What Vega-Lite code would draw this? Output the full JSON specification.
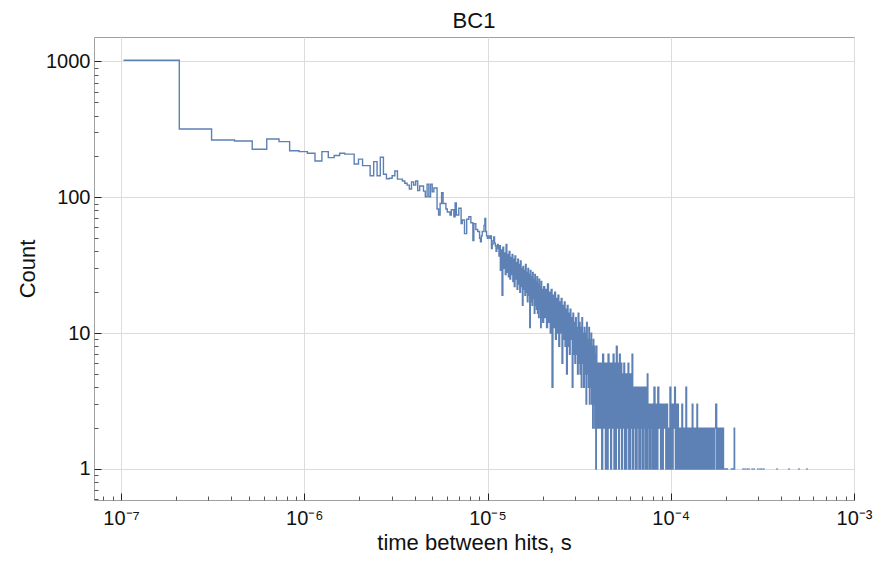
{
  "$schema": "https://vega.github.io/schema/vega-lite/v6.json",
  "width": 760,
  "height": 463,
  "autosize": "none",
  "padding": {"left": 94, "top": 37, "right": 24, "bottom": 64},
  "background": "white",
  "title": {"text": "BC1", "fontSize": 22, "font": "Liberation Sans", "fontWeight": "normal", "color": "#111111", "offset": 4, "anchor": "middle"},
  "data": {"values": [
    {"t":1.04e-7,"c":1020},{"t":2.08e-7,"c":318},{"t":3.12e-7,"c":264},{"t":4.16e-7,"c":260},{"t":5.2e-7,"c":226},
    {"t":6.24e-7,"c":269},{"t":7.28e-7,"c":257},{"t":8.32e-7,"c":220},{"t":9.36e-7,"c":217},{"t":1.04e-6,"c":211},
    {"t":1.144e-6,"c":185},{"t":1.248e-6,"c":217},{"t":1.352e-6,"c":196},{"t":1.456e-6,"c":203},{"t":1.56e-6,"c":211},
    {"t":1.664e-6,"c":208},{"t":1.768e-6,"c":208},{"t":1.872e-6,"c":176},{"t":1.976e-6,"c":191},{"t":2.08e-6,"c":171},
    {"t":2.184e-6,"c":171},{"t":2.288e-6,"c":144},{"t":2.392e-6,"c":183},{"t":2.496e-6,"c":144},{"t":2.6e-6,"c":197},
    {"t":2.704e-6,"c":148},{"t":2.808e-6,"c":137},{"t":2.912e-6,"c":138},{"t":3.016e-6,"c":144},{"t":3.12e-6,"c":156},
    {"t":3.224e-6,"c":136},{"t":3.328e-6,"c":136},{"t":3.432e-6,"c":132},{"t":3.536e-6,"c":127},{"t":3.64e-6,"c":123},
    {"t":3.744e-6,"c":115},{"t":3.848e-6,"c":130},{"t":3.952e-6,"c":123},{"t":4.056e-6,"c":132},{"t":4.16e-6,"c":112},
    {"t":4.264e-6,"c":121},{"t":4.368e-6,"c":121},{"t":4.472e-6,"c":111},{"t":4.576e-6,"c":101},{"t":4.68e-6,"c":125},
    {"t":4.784e-6,"c":101},{"t":4.888e-6,"c":125},{"t":4.992e-6,"c":110},{"t":5.096e-6,"c":117},{"t":5.2e-6,"c":117},
    {"t":5.304e-6,"c":82},{"t":5.408e-6,"c":74},{"t":5.512e-6,"c":90},{"t":5.616e-6,"c":108},{"t":5.72e-6,"c":90},
    {"t":5.824e-6,"c":90},{"t":5.928e-6,"c":82},{"t":6.032e-6,"c":78},{"t":6.136e-6,"c":78},{"t":6.24e-6,"c":74},
    {"t":6.344e-6,"c":81},{"t":6.448e-6,"c":81},{"t":6.552e-6,"c":72},{"t":6.656e-6,"c":91},{"t":6.76e-6,"c":74},
    {"t":6.864e-6,"c":74},{"t":6.968e-6,"c":83},{"t":7.072e-6,"c":83},{"t":7.176e-6,"c":64},{"t":7.28e-6,"c":68},
    {"t":7.384e-6,"c":68},{"t":7.488e-6,"c":54},{"t":7.592e-6,"c":54},{"t":7.696e-6,"c":69},{"t":7.8e-6,"c":69},
    {"t":7.904e-6,"c":72},{"t":8.008e-6,"c":72},{"t":8.112e-6,"c":65},{"t":8.216e-6,"c":65},{"t":8.32e-6,"c":48},
    {"t":8.424e-6,"c":64},{"t":8.528e-6,"c":64},{"t":8.632e-6,"c":58},{"t":8.736e-6,"c":58},{"t":8.84e-6,"c":56},
    {"t":8.944e-6,"c":56},{"t":9.048e-6,"c":50},{"t":9.152e-6,"c":47},{"t":9.256e-6,"c":52},{"t":9.36e-6,"c":56},
    {"t":9.464e-6,"c":56},{"t":9.568e-6,"c":62},{"t":9.672e-6,"c":70},{"t":9.776e-6,"c":56},{"t":9.88e-6,"c":52},
    {"t":9.984e-6,"c":50},{"t":1.0088e-5,"c":52},{"t":1.0192e-5,"c":52},{"t":1.0296e-5,"c":50},{"t":1.04e-5,"c":52},
    {"t":1.0504e-5,"c":42},{"t":1.0608e-5,"c":45},{"t":1.0712e-5,"c":48},{"t":1.0816e-5,"c":51},{"t":1.092e-5,"c":46},
    {"t":1.1024e-5,"c":44},{"t":1.1128e-5,"c":40},{"t":1.1232e-5,"c":42},{"t":1.1336e-5,"c":45},{"t":1.144e-5,"c":44},
    {"t":1.1544e-5,"c":37},
    {"t":1.1625e-5,"c":44},{"t":1.175e-5,"c":29},{"t":1.1875e-5,"c":41},{"t":1.2e-5,"c":19},{"t":1.2125e-5,"c":43},
    {"t":1.225e-5,"c":30},{"t":1.2375e-5,"c":39},{"t":1.25e-5,"c":27},{"t":1.2625e-5,"c":45},{"t":1.275e-5,"c":28},
    {"t":1.2875e-5,"c":38},{"t":1.3e-5,"c":26},{"t":1.3125e-5,"c":40},{"t":1.325e-5,"c":25},{"t":1.3375e-5,"c":36},
    {"t":1.35e-5,"c":27},{"t":1.3625e-5,"c":38},{"t":1.375e-5,"c":24},{"t":1.3875e-5,"c":35},{"t":1.4e-5,"c":22},
    {"t":1.4125e-5,"c":37},{"t":1.425e-5,"c":25},{"t":1.4375e-5,"c":33},{"t":1.45e-5,"c":21},{"t":1.4625e-5,"c":35},
    {"t":1.475e-5,"c":23},{"t":1.4875e-5,"c":32},{"t":1.5e-5,"c":20},{"t":1.5125e-5,"c":34},{"t":1.525e-5,"c":22},
    {"t":1.5375e-5,"c":30},{"t":1.55e-5,"c":16},{"t":1.5625e-5,"c":31},{"t":1.575e-5,"c":21},{"t":1.5875e-5,"c":29},
    {"t":1.6e-5,"c":19},{"t":1.6125e-5,"c":32},{"t":1.625e-5,"c":20},{"t":1.6375e-5,"c":28},{"t":1.65e-5,"c":17},
    {"t":1.6625e-5,"c":30},{"t":1.675e-5,"c":19},{"t":1.6875e-5,"c":27},{"t":1.7e-5,"c":11},{"t":1.7125e-5,"c":29},
    {"t":1.725e-5,"c":17},{"t":1.7375e-5,"c":26},{"t":1.75e-5,"c":16},{"t":1.7625e-5,"c":28},{"t":1.775e-5,"c":18},
    {"t":1.7875e-5,"c":25},{"t":1.8e-5,"c":14},{"t":1.8125e-5,"c":27},{"t":1.825e-5,"c":16},{"t":1.8375e-5,"c":24},
    {"t":1.85e-5,"c":15},{"t":1.8625e-5,"c":26},{"t":1.875e-5,"c":14},{"t":1.8875e-5,"c":23},{"t":1.9e-5,"c":13},
    {"t":1.9125e-5,"c":25},{"t":1.925e-5,"c":15},{"t":1.9375e-5,"c":22},{"t":1.95e-5,"c":11},{"t":1.9625e-5,"c":24},
    {"t":1.975e-5,"c":13},{"t":1.9875e-5,"c":21},{"t":2.0e-5,"c":12},
    {"t":2.025e-5,"c":22},{"t":2.05e-5,"c":13},{"t":2.075e-5,"c":21},{"t":2.1e-5,"c":11},{"t":2.125e-5,"c":23},
    {"t":2.15e-5,"c":12},{"t":2.175e-5,"c":20},{"t":2.2e-5,"c":10},{"t":2.225e-5,"c":21},{"t":2.25e-5,"c":4},
    {"t":2.275e-5,"c":19},{"t":2.3e-5,"c":11},{"t":2.325e-5,"c":20},{"t":2.35e-5,"c":9},{"t":2.375e-5,"c":18},
    {"t":2.4e-5,"c":10},{"t":2.425e-5,"c":19},{"t":2.45e-5,"c":8},{"t":2.475e-5,"c":17},{"t":2.5e-5,"c":10},
    {"t":2.525e-5,"c":18},{"t":2.55e-5,"c":6},{"t":2.575e-5,"c":16},{"t":2.6e-5,"c":9},{"t":2.625e-5,"c":17},
    {"t":2.65e-5,"c":8},{"t":2.675e-5,"c":15},{"t":2.7e-5,"c":5},{"t":2.725e-5,"c":16},{"t":2.75e-5,"c":8},
    {"t":2.775e-5,"c":14},{"t":2.8e-5,"c":7},{"t":2.825e-5,"c":15},{"t":2.85e-5,"c":9},{"t":2.875e-5,"c":13},
    {"t":2.9e-5,"c":4},{"t":2.925e-5,"c":14},{"t":2.95e-5,"c":7},{"t":2.975e-5,"c":12},{"t":3.0e-5,"c":6},
    {"t":3.025e-5,"c":13},{"t":3.05e-5,"c":7},{"t":3.075e-5,"c":11},{"t":3.1e-5,"c":5},{"t":3.125e-5,"c":14},
    {"t":3.15e-5,"c":6},{"t":3.175e-5,"c":12},{"t":3.2e-5,"c":5},{"t":3.225e-5,"c":11},{"t":3.25e-5,"c":4},
    {"t":3.275e-5,"c":13},{"t":3.3e-5,"c":6},{"t":3.325e-5,"c":10},{"t":3.35e-5,"c":4},{"t":3.375e-5,"c":11},
    {"t":3.4e-5,"c":5},{"t":3.425e-5,"c":10},{"t":3.45e-5,"c":3},{"t":3.475e-5,"c":12},{"t":3.5e-5,"c":5},
    {"t":3.525e-5,"c":9},{"t":3.55e-5,"c":4},{"t":3.575e-5,"c":11},{"t":3.6e-5,"c":3},{"t":3.625e-5,"c":9},
    {"t":3.65e-5,"c":4},{"t":3.675e-5,"c":10},{"t":3.7e-5,"c":3},{"t":3.725e-5,"c":8},{"t":3.75e-5,"c":2},
    {"t":3.775e-5,"c":9},{"t":3.8e-5,"c":3},{"t":3.825e-5,"c":8},{"t":3.85e-5,"c":2},{"t":3.875e-5,"c":7},
    {"t":3.9e-5,"c":1},{"t":3.925e-5,"c":8},{"t":3.95e-5,"c":2},{"t":3.975e-5,"c":6},{"t":4.0e-5,"c":2},
    {"t":4.05e-5,"c":6},{"t":4.1e-5,"c":2},{"t":4.15e-5,"c":6},{"t":4.2e-5,"c":1},{"t":4.25e-5,"c":7},
    {"t":4.3e-5,"c":2},{"t":4.35e-5,"c":6},{"t":4.4e-5,"c":1},{"t":4.45e-5,"c":6},{"t":4.5e-5,"c":1},
    {"t":4.55e-5,"c":7},{"t":4.6e-5,"c":2},{"t":4.65e-5,"c":6},{"t":4.7e-5,"c":1},{"t":4.75e-5,"c":6},
    {"t":4.8e-5,"c":2},{"t":4.85e-5,"c":7},{"t":4.9e-5,"c":1},{"t":4.95e-5,"c":6},{"t":5.0e-5,"c":1},
    {"t":5.05e-5,"c":8},{"t":5.1e-5,"c":2},{"t":5.15e-5,"c":6},{"t":5.2e-5,"c":1},{"t":5.25e-5,"c":7},
    {"t":5.3e-5,"c":2},{"t":5.35e-5,"c":6},{"t":5.4e-5,"c":1},{"t":5.45e-5,"c":5},{"t":5.5e-5,"c":2},
    {"t":5.55e-5,"c":6},{"t":5.6e-5,"c":1},{"t":5.65e-5,"c":5},{"t":5.7e-5,"c":1},{"t":5.75e-5,"c":5},
    {"t":5.8e-5,"c":2},{"t":5.85e-5,"c":6},{"t":5.9e-5,"c":1},{"t":5.95e-5,"c":5},{"t":6.0e-5,"c":1},
    {"t":6.05e-5,"c":5},{"t":6.1e-5,"c":2},{"t":6.15e-5,"c":7},{"t":6.2e-5,"c":1},{"t":6.25e-5,"c":4},
    {"t":6.3e-5,"c":2},{"t":6.35e-5,"c":4},{"t":6.4e-5,"c":1},{"t":6.45e-5,"c":4},{"t":6.5e-5,"c":1},
    {"t":6.55e-5,"c":4},{"t":6.6e-5,"c":2},{"t":6.65e-5,"c":4},{"t":6.7e-5,"c":1},{"t":6.75e-5,"c":4},
    {"t":6.8e-5,"c":1},{"t":6.85e-5,"c":4},{"t":6.9e-5,"c":2},{"t":6.95e-5,"c":4},{"t":7.0e-5,"c":1},
    {"t":7.05e-5,"c":4},{"t":7.1e-5,"c":1},{"t":7.15e-5,"c":4},{"t":7.2e-5,"c":2},{"t":7.25e-5,"c":4},
    {"t":7.3e-5,"c":1},{"t":7.35e-5,"c":4},{"t":7.4e-5,"c":1},{"t":7.45e-5,"c":5},{"t":7.5e-5,"c":2},
    {"t":7.55e-5,"c":3},{"t":7.6e-5,"c":1},{"t":7.65e-5,"c":3},{"t":7.7e-5,"c":1},{"t":7.75e-5,"c":3},
    {"t":7.8e-5,"c":2},{"t":7.85e-5,"c":3},{"t":7.9e-5,"c":1},{"t":7.95e-5,"c":3},{"t":8.0e-5,"c":1},
    {"t":8.1e-5,"c":4},{"t":8.2e-5,"c":1},{"t":8.3e-5,"c":3},{"t":8.4e-5,"c":1},{"t":8.5e-5,"c":4},
    {"t":8.6e-5,"c":2},{"t":8.7e-5,"c":3},{"t":8.8e-5,"c":1},{"t":8.9e-5,"c":3},{"t":9.0e-5,"c":1},
    {"t":9.1e-5,"c":3},{"t":9.2e-5,"c":2},{"t":9.3e-5,"c":3},{"t":9.4e-5,"c":1},{"t":9.5e-5,"c":3},
    {"t":9.6e-5,"c":1},{"t":9.7e-5,"c":2},{"t":9.8e-5,"c":1},{"t":9.9e-5,"c":4},{"t":1.0e-4,"c":1},
    {"t":1.01e-4,"c":3},{"t":1.02e-4,"c":1},{"t":1.03e-4,"c":3},{"t":1.04e-4,"c":2},{"t":1.05e-4,"c":4},
    {"t":1.06e-4,"c":1},{"t":1.07e-4,"c":3},{"t":1.08e-4,"c":1},{"t":1.09e-4,"c":3},{"t":1.1e-4,"c":1},
    {"t":1.11e-4,"c":2},{"t":1.12e-4,"c":1},{"t":1.13e-4,"c":2},{"t":1.14e-4,"c":1},{"t":1.15e-4,"c":3},
    {"t":1.16e-4,"c":1},{"t":1.17e-4,"c":2},{"t":1.18e-4,"c":1},{"t":1.19e-4,"c":2},{"t":1.2e-4,"c":1},
    {"t":1.21e-4,"c":4},{"t":1.22e-4,"c":1},{"t":1.23e-4,"c":2},{"t":1.24e-4,"c":1},{"t":1.25e-4,"c":2},
    {"t":1.26e-4,"c":1},{"t":1.27e-4,"c":2},{"t":1.28e-4,"c":1},{"t":1.29e-4,"c":2},{"t":1.3e-4,"c":1},
    {"t":1.31e-4,"c":3},{"t":1.32e-4,"c":1},{"t":1.33e-4,"c":2},{"t":1.34e-4,"c":1},{"t":1.35e-4,"c":2},
    {"t":1.36e-4,"c":1},{"t":1.37e-4,"c":2},{"t":1.38e-4,"c":1},{"t":1.39e-4,"c":3},{"t":1.4e-4,"c":1},
    {"t":1.41e-4,"c":2},{"t":1.42e-4,"c":1},{"t":1.43e-4,"c":2},{"t":1.44e-4,"c":1},{"t":1.45e-4,"c":2},
    {"t":1.46e-4,"c":1},{"t":1.47e-4,"c":2},{"t":1.48e-4,"c":1},{"t":1.49e-4,"c":2},{"t":1.5e-4,"c":1},
    {"t":1.51e-4,"c":2},{"t":1.52e-4,"c":1},{"t":1.53e-4,"c":2},{"t":1.54e-4,"c":1},{"t":1.55e-4,"c":2},
    {"t":1.56e-4,"c":1},{"t":1.57e-4,"c":2},{"t":1.58e-4,"c":1},{"t":1.59e-4,"c":2},{"t":1.6e-4,"c":1},
    {"t":1.62e-4,"c":2},{"t":1.64e-4,"c":1},{"t":1.66e-4,"c":2},{"t":1.68e-4,"c":1},{"t":1.7e-4,"c":2},
    {"t":1.72e-4,"c":1},{"t":1.74e-4,"c":2},{"t":1.76e-4,"c":3},{"t":1.78e-4,"c":1},{"t":1.8e-4,"c":2},
    {"t":1.82e-4,"c":1},{"t":1.84e-4,"c":2},{"t":1.86e-4,"c":1},{"t":1.88e-4,"c":2},{"t":1.9e-4,"c":1},
    {"t":1.92e-4,"c":2},{"t":1.94e-4,"c":1},{"t":2.04e-4,"c":1},
    {"t":2.08e-4,"c":null},{"t":2.14e-4,"c":1},{"t":2.2e-4,"c":1},{"t":2.22e-4,"c":2},{"t":2.23e-4,"c":1},
    {"t":2.25e-4,"c":null},
    {"t":2.48e-4,"c":1},{"t":2.48104e-4,"c":1},{"t":2.483e-4,"c":null},
    {"t":2.54e-4,"c":1},{"t":2.54104e-4,"c":1},{"t":2.543e-4,"c":null},
    {"t":2.61e-4,"c":1},{"t":2.61104e-4,"c":1},{"t":2.613e-4,"c":null},
    {"t":2.67e-4,"c":1},{"t":2.67104e-4,"c":1},{"t":2.673e-4,"c":null},
    {"t":2.78e-4,"c":1},{"t":2.78104e-4,"c":1},{"t":2.783e-4,"c":null},
    {"t":2.85e-4,"c":1},{"t":2.85104e-4,"c":1},{"t":2.853e-4,"c":null},
    {"t":2.99e-4,"c":1},{"t":2.99104e-4,"c":1},{"t":2.993e-4,"c":null},
    {"t":3.07e-4,"c":1},{"t":3.07104e-4,"c":1},{"t":3.073e-4,"c":null},
    {"t":3.14e-4,"c":1},{"t":3.14104e-4,"c":1},{"t":3.143e-4,"c":null},
    {"t":3.22e-4,"c":1},{"t":3.22104e-4,"c":1},{"t":3.223e-4,"c":null},
    {"t":3.8e-4,"c":1},{"t":3.80104e-4,"c":1},{"t":3.803e-4,"c":null},
    {"t":4.42e-4,"c":1},{"t":4.42104e-4,"c":1},{"t":4.423e-4,"c":null},
    {"t":5.01e-4,"c":1},{"t":5.01104e-4,"c":1},{"t":5.013e-4,"c":null},
    {"t":5.54e-4,"c":1},{"t":5.54104e-4,"c":1}
  ]},
  "mark": {"type": "line", "interpolate": "step-after", "color": "#5e81b5", "strokeWidth": 1.4, "strokeCap": "square", "clip": true, "invalid": "break-paths-filter-domains"},
  "encoding": {
    "x": {
      "field": "t", "type": "quantitative",
      "scale": {"type": "log", "domain": [7.12e-8, 1.0e-3], "nice": false},
      "axis": {
        "title": "time between hits, s",
        "values": [8e-8, 9e-8, 1e-7, 2e-7, 3e-7, 4e-7, 5e-7, 6e-7, 7e-7, 8e-7, 9e-7, 1e-6, 2e-6, 3e-6, 4e-6, 5e-6, 6e-6, 7e-6, 8e-6, 9e-6, 1e-5, 2e-5, 3e-5, 4e-5, 5e-5, 6e-5, 7e-5, 8e-5, 9e-5, 1e-4, 2e-4, 3e-4, 4e-4, 5e-4, 6e-4, 7e-4, 8e-4, 9e-4, 1e-3],
        "labelExpr": "abs(log(datum.value)/LN10 - round(log(datum.value)/LN10)) < 0.001 ? '10' + (round(log(datum.value)/LN10) == -7 ? '⁻⁷' : round(log(datum.value)/LN10) == -6 ? '⁻⁶' : round(log(datum.value)/LN10) == -5 ? '⁻⁵' : round(log(datum.value)/LN10) == -4 ? '⁻⁴' : '⁻³') : ''",
        "grid": true,
        "gridColor": "#dcdcdc",
        "gridOpacity": {"condition": {"test": "abs(log(datum.value)/LN10 - round(log(datum.value)/LN10)) < 0.001", "value": 1}, "value": 0},
        "tickSize": {"condition": {"test": "abs(log(datum.value)/LN10 - round(log(datum.value)/LN10)) < 0.001", "value": -7}, "value": -4},
        "tickColor": {"condition": {"test": "abs(log(datum.value)/LN10 - round(log(datum.value)/LN10)) < 0.001", "value": "#222222"}, "value": "#555555"},
        "labelPadding": 15,
        "titlePadding": 1
      }
    },
    "y": {
      "field": "c", "type": "quantitative",
      "scale": {"type": "log", "domain": [0.591, 1514], "nice": false, "zero": false},
      "axis": {
        "title": "Count",
        "values": [0.6, 0.7, 0.8, 0.9, 1, 2, 3, 4, 5, 6, 7, 8, 9, 10, 20, 30, 40, 50, 60, 70, 80, 90, 100, 200, 300, 400, 500, 600, 700, 800, 900, 1000],
        "labelExpr": "abs(log(datum.value)/LN10 - round(log(datum.value)/LN10)) < 0.001 ? '' + round(datum.value) : ''",
        "grid": true,
        "gridColor": "#dcdcdc",
        "gridOpacity": {"condition": {"test": "abs(log(datum.value)/LN10 - round(log(datum.value)/LN10)) < 0.001", "value": 1}, "value": 0},
        "tickSize": {"condition": {"test": "abs(log(datum.value)/LN10 - round(log(datum.value)/LN10)) < 0.001", "value": -7}, "value": -4},
        "tickColor": {"condition": {"test": "abs(log(datum.value)/LN10 - round(log(datum.value)/LN10)) < 0.001", "value": "#222222"}, "value": "#555555"},
        "labelPadding": 11,
        "titlePadding": 6
      }
    }
  },
  "config": {
    "view": {"stroke": "#a0a0a0", "strokeWidth": 1},
    "axis": {
      "domain": false,
      "labelFont": "Liberation Sans",
      "labelFontSize": 20,
      "labelColor": "#111111",
      "labelOverlap": false,
      "labelFlush": false,
      "labelBound": false,
      "titleFont": "Liberation Sans",
      "titleFontSize": 22,
      "titleFontWeight": "normal",
      "titleColor": "#111111",
      "tickWidth": 1
    }
  }
}
